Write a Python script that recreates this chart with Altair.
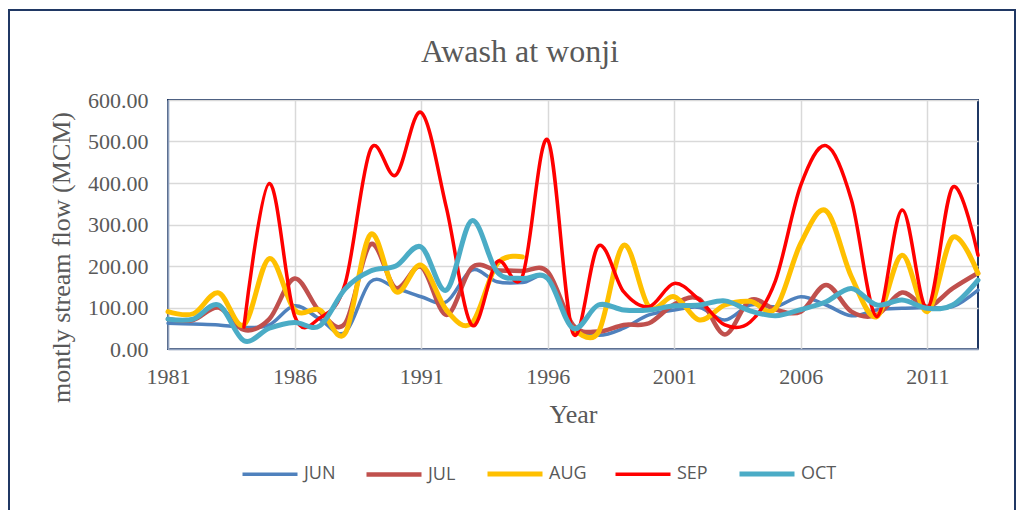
import altair as alt
import pandas as pd

years = list(range(1981, 2014))
series_names = ["JUN", "JUL", "AUG", "SEP", "OCT"]
colors = ["#4F81BD", "#C0504D", "#FFC000", "#FF0000", "#4BACC6"]
line_widths = [3.5, 4.5, 5, 3.5, 5]

jun = [62, 60, 58, 52, 58, 104, 72, 40, 162, 147, 126, 114, 190, 162, 160, 171, 55, 33,
       50, 82, 94, 100, 70, 106, 102, 126, 106, 80, 94, 98, 100, 102, 142]
jul = [72, 70, 100, 46, 72, 170, 90, 62, 252, 147, 198, 82, 196, 190, 188, 186, 58, 42,
       58, 62, 108, 120, 35, 118, 95, 90, 154, 90, 82, 136, 102, 146, 183]
aug = [90, 85, 135, 58, 218, 94, 94, 38, 276, 138, 202, 94, 62, 205, 222, None, 50, 40,
       250, 102, 126, 70, 106, 115, 98, 255, 333, 174, 78, 226, 90, 269, 182]
sep = [None, None, None, 53, 399, 80, 75, 158, 481, 419, 570, 340, 58, 210, 175, 504, 38, 248,
       138, 102, 158, 118, 58, 65, 165, 395, 490, 359, 78, 335, 98, 390, 226]
oct_ = [72, 72, 106, 20, 50, 64, 56, 145, 188, 200, 246, 142, 309, 186, 170, 170, 50, 106,
        94, 94, 104, 106, 116, 92, 80, 95, 114, 146, 106, 118, 98, 106, 166]

x_ticks = [1981, 1986, 1991, 1996, 2001, 2006, 2011]
y_ticks = [0, 100, 200, 300, 400, 500, 600]

rows = []
for name, vals in zip(series_names, [jun, jul, aug, sep, oct_]):
    for yr, v in zip(years, vals):
        rows.append({"Year": yr, "Month": name, "Flow": v})
df = pd.DataFrame(rows)

serif = "Liberation Serif"
grey = "#595959"

lines = alt.Chart(df).mark_line(interpolate="cardinal", strokeCap="round", strokeJoin="round").encode(
    x=alt.X("Year:Q",
            scale=alt.Scale(domain=[1981, 2013], nice=False, zero=False),
            axis=alt.Axis(values=x_ticks, format="d", labelFont=serif, labelFontSize=22,
                          labelColor=grey, labelPadding=17, labelFlush=False, ticks=False,
                          grid=True, gridColor="#D9D9D9", gridWidth=1.5,
                          domainColor="#8EA0BE", domainWidth=1.5,
                          title="Year", titleFont=serif, titleFontSize=26,
                          titleFontWeight="normal", titleColor=grey,
                          titleY=73, titleBaseline="alphabetic")),
    y=alt.Y("Flow:Q",
            scale=alt.Scale(domain=[0, 600], nice=False),
            axis=alt.Axis(values=y_ticks, format=".2f", labelFont=serif, labelFontSize=22,
                          labelColor=grey, labelPadding=20, ticks=False,
                          grid=True, gridColor="#D9D9D9", gridWidth=1.5,
                          domainColor="#8EA0BE", domainWidth=1.5,
                          title="montly stream flow (MCM)", titleFont=serif,
                          titleFontSize=26, titleFontWeight="normal", titleColor=grey,
                          titleX=-107, titleY=157, titleAngle=270,
                          titleAlign="center", titleBaseline="middle")),
    color=alt.Color("Month:N",
                    scale=alt.Scale(domain=series_names, range=colors),
                    legend=alt.Legend(orient="none", legendX=72, legendY=344,
                                      direction="horizontal", columns=5, title=None,
                                      symbolType="stroke", symbolSize=3025,
                                      symbolStrokeWidth=4, labelFont="Open Sans",
                                      labelFontSize=18, labelColor=grey,
                                      columnPadding=21, labelOffset=4, padding=0)),
    strokeWidth=alt.StrokeWidth("Month:N",
                                scale=alt.Scale(type="ordinal", domain=series_names,
                                                range=line_widths),
                                legend=None),
)

frame = alt.Chart(pd.DataFrame({"k": [0]})).mark_rect(
    fill="transparent", stroke="#203864", strokeWidth=2
).encode(
    x=alt.value(-159), x2=alt.value(847), y=alt.value(-90), y2=alt.value(430)
)

chart = alt.layer(frame, lines).properties(
    width=810,
    height=249,
    autosize=alt.AutoSizeParams(type="none"),
    padding={"left": 160, "top": 92, "right": 39, "bottom": 161},
    title=alt.TitleParams("Awash at wonji", font=serif, fontSize=32, fontWeight="normal",
                          color=grey, anchor="middle", frame="group", dx=-53, offset=0,
                          dy=85, baseline="alphabetic"),
).configure_view(stroke="#1F3864", strokeWidth=2)

chart.save("out.html", embed_options={"renderer": "svg", "actions": False})
